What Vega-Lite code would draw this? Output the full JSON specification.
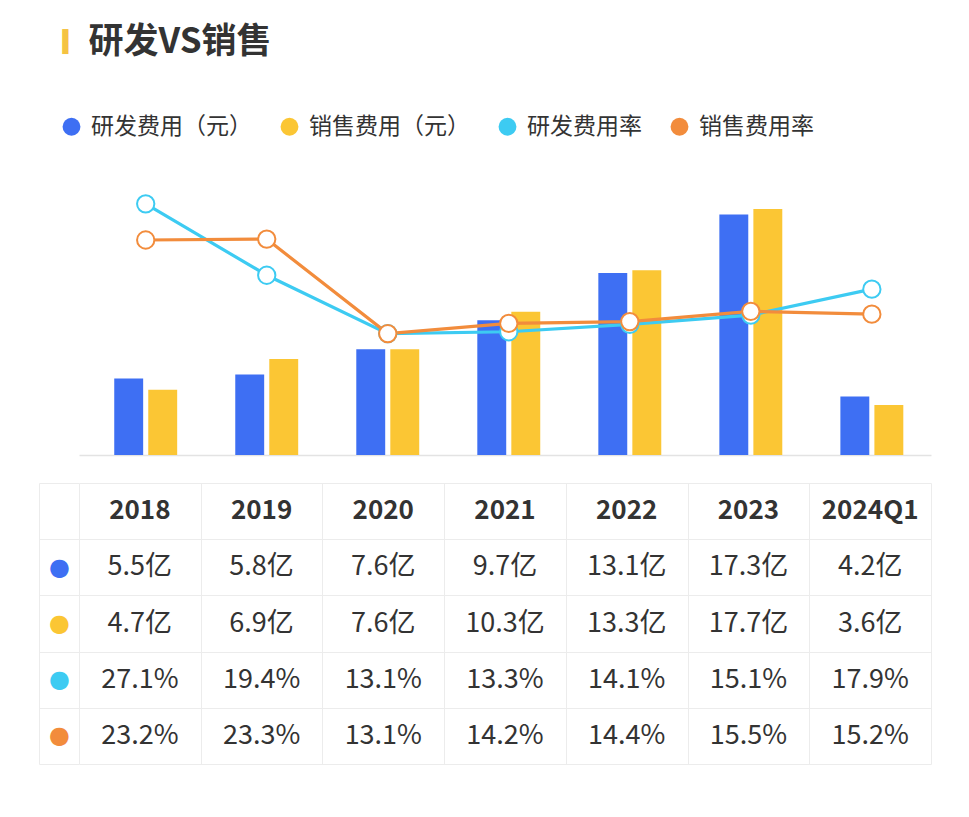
{
  "$schema": "https://vega.github.io/schema/vega-lite/v6.json",
  "background": "white",
  "padding": {"left": 38, "top": 25, "right": 5, "bottom": 5},
  "config": {"view": {"stroke": null}, "font": "Noto Sans CJK SC"},
  "title": {
    "text": "\u2800研发VS销售",
    "subtitle": "▍",
    "anchor": "start",
    "frame": "bounds",
    "fontSize": 35,
    "fontWeight": "bold",
    "color": "#333333",
    "font": "Noto Sans CJK SC",
    "subtitleColor": "#F5C342",
    "subtitleFontSize": 21,
    "subtitleFont": "DejaVu Sans",
    "subtitlePadding": -28,
    "dx": 24,
    "offset": 55
  },
  "datasets": {
    "d": [
      {"year": "2018", "series": "研发费用（元）", "kind": "amt", "value": 5.5, "label": "5.5亿"},
      {"year": "2019", "series": "研发费用（元）", "kind": "amt", "value": 5.8, "label": "5.8亿"},
      {"year": "2020", "series": "研发费用（元）", "kind": "amt", "value": 7.6, "label": "7.6亿"},
      {"year": "2021", "series": "研发费用（元）", "kind": "amt", "value": 9.7, "label": "9.7亿"},
      {"year": "2022", "series": "研发费用（元）", "kind": "amt", "value": 13.1, "label": "13.1亿"},
      {"year": "2023", "series": "研发费用（元）", "kind": "amt", "value": 17.3, "label": "17.3亿"},
      {"year": "2024Q1", "series": "研发费用（元）", "kind": "amt", "value": 4.2, "label": "4.2亿"},
      {"year": "2018", "series": "销售费用（元）", "kind": "amt", "value": 4.7, "label": "4.7亿"},
      {"year": "2019", "series": "销售费用（元）", "kind": "amt", "value": 6.9, "label": "6.9亿"},
      {"year": "2020", "series": "销售费用（元）", "kind": "amt", "value": 7.6, "label": "7.6亿"},
      {"year": "2021", "series": "销售费用（元）", "kind": "amt", "value": 10.3, "label": "10.3亿"},
      {"year": "2022", "series": "销售费用（元）", "kind": "amt", "value": 13.3, "label": "13.3亿"},
      {"year": "2023", "series": "销售费用（元）", "kind": "amt", "value": 17.7, "label": "17.7亿"},
      {"year": "2024Q1", "series": "销售费用（元）", "kind": "amt", "value": 3.6, "label": "3.6亿"},
      {"year": "2018", "series": "研发费用率", "kind": "rate", "value": 27.1, "label": "27.1%"},
      {"year": "2019", "series": "研发费用率", "kind": "rate", "value": 19.4, "label": "19.4%"},
      {"year": "2020", "series": "研发费用率", "kind": "rate", "value": 13.1, "label": "13.1%"},
      {"year": "2021", "series": "研发费用率", "kind": "rate", "value": 13.3, "label": "13.3%"},
      {"year": "2022", "series": "研发费用率", "kind": "rate", "value": 14.1, "label": "14.1%"},
      {"year": "2023", "series": "研发费用率", "kind": "rate", "value": 15.1, "label": "15.1%"},
      {"year": "2024Q1", "series": "研发费用率", "kind": "rate", "value": 17.9, "label": "17.9%"},
      {"year": "2018", "series": "销售费用率", "kind": "rate", "value": 23.2, "label": "23.2%"},
      {"year": "2019", "series": "销售费用率", "kind": "rate", "value": 23.3, "label": "23.3%"},
      {"year": "2020", "series": "销售费用率", "kind": "rate", "value": 13.1, "label": "13.1%"},
      {"year": "2021", "series": "销售费用率", "kind": "rate", "value": 14.2, "label": "14.2%"},
      {"year": "2022", "series": "销售费用率", "kind": "rate", "value": 14.4, "label": "14.4%"},
      {"year": "2023", "series": "销售费用率", "kind": "rate", "value": 15.5, "label": "15.5%"},
      {"year": "2024Q1", "series": "销售费用率", "kind": "rate", "value": 15.2, "label": "15.2%"}
    ]
  },
  "spacing": 16,
  "vconcat": [
    {
      "width": 852,
      "height": 278,
      "data": {"name": "d"},
      "encoding": {
        "x": {
          "field": "year",
          "type": "nominal",
          "scale": {"domain": ["2018", "2019", "2020", "2021", "2022", "2023", "2024Q1"], "paddingInner": 0.48, "paddingOuter": 0.26, "align": 0.56},
          "axis": {"labels": false, "ticks": false, "title": null, "domainColor": "#e3e3e3", "domainWidth": 1.5}
        }
      },
      "layer": [
        {
          "transform": [{"filter": "datum.kind == 'amt'"}],
          "mark": {"type": "bar"},
          "encoding": {
            "xOffset": {"field": "series", "type": "nominal", "scale": {"domain": ["研发费用（元）", "销售费用（元）"], "paddingInner": 0.15}},
            "y": {"field": "value", "type": "quantitative", "scale": {"domain": [0, 20]}, "axis": null},
            "color": {
              "field": "series",
              "type": "nominal",
              "scale": {
                "domain": ["研发费用（元）", "销售费用（元）", "研发费用率", "销售费用率"],
                "range": ["#3E6FF3", "#FBC634", "#3DCBF2", "#F28C3C"]
              },
              "legend": {
                "title": null,
                "orient": "none",
                "legendX": -19,
                "legendY": -62,
                "direction": "horizontal",
                "symbolType": "circle",
                "symbolSize": 320,
                "symbolStrokeWidth": 0,
                "symbolOpacity": 1,
                "labelFontSize": 23,
                "labelLimit": 400,
                "labelColor": "#333333",
                "labelOffset": 8,
                "columnPadding": 26,
                "labelFont": "Noto Sans CJK SC"
              }
            }
          }
        },
        {
          "transform": [{"filter": "datum.kind == 'rate'"}],
          "encoding": {
            "y": {"field": "value", "type": "quantitative", "scale": {"domain": [0, 30]}, "axis": null},
            "color": {"field": "series", "type": "nominal"}
          },
          "layer": [
            {"mark": {"type": "line", "strokeWidth": 3.2}},
            {"mark": {"type": "point", "filled": false, "fill": "white", "size": 300, "strokeWidth": 2, "opacity": 1}}
          ]
        }
      ],
      "resolve": {"scale": {"y": "independent"}}
    },
    {
      "width": 852,
      "height": 281,
      "data": {"name": "d"},
      "encoding": {
        "x": {
          "field": "year",
          "type": "nominal",
          "scale": {"domain": ["2018", "2019", "2020", "2021", "2022", "2023", "2024Q1"], "paddingInner": 0, "paddingOuter": 0},
          "axis": {"labels": false, "ticks": false, "domain": false, "grid": true, "gridColor": "#ececec", "tickBand": "extent", "title": null}
        }
      },
      "layer": [
        {
          "transform": [{"filter": "datum.series == '研发费用（元）'"}],
          "mark": {"type": "text", "fontSize": 26, "fontWeight": 600, "color": "#333333"},
          "encoding": {
            "y": {"datum": "header", "type": "nominal", "scale": {"domain": ["header", "研发费用（元）", "销售费用（元）", "研发费用率", "销售费用率"], "paddingInner": 0, "paddingOuter": 0}},
            "text": {"field": "year"}
          }
        },
        {
          "mark": {"type": "text", "fontSize": 27, "color": "#333333"},
          "encoding": {
            "y": {
              "field": "series",
              "type": "nominal",
              "axis": {
                "title": null,
                "domain": true,
                "domainColor": "#ececec",
                "offset": 40,
                "ticks": true,
                "tickSize": -40,
                "tickColor": "#ececec",
                "tickBand": "extent",
                "grid": true,
                "gridColor": "#ececec",
                "labelExpr": "indexof(['研发费用（元）', '销售费用（元）', '研发费用率', '销售费用率'], datum.value) >= 0 ? '●' : ''",
                "labelPadding": 20,
                "labelAlign": "center",
                "labelBaseline": "middle",
                "labelFontSize": 24,
                "labelFont": "DejaVu Sans",
                "labelColor": {
                  "condition": [
                    {"test": "datum.value == '研发费用（元）'", "value": "#3E6FF3"},
                    {"test": "datum.value == '销售费用（元）'", "value": "#FBC634"},
                    {"test": "datum.value == '研发费用率'", "value": "#3DCBF2"}
                  ],
                  "value": "#F28C3C"
                }
              }
            },
            "text": {"field": "label"}
          }
        }
      ]
    }
  ]
}
